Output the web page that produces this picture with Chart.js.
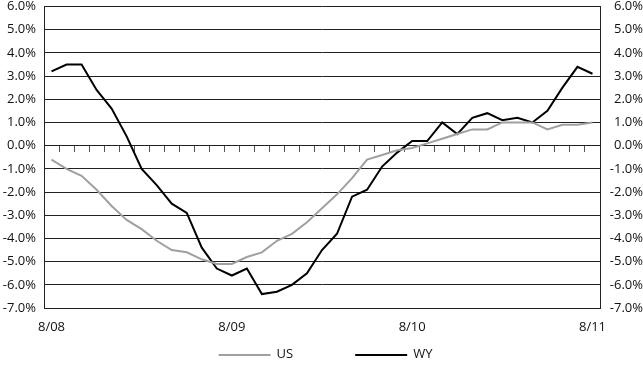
<!DOCTYPE html>
<html><head><meta charset="utf-8">
<script src="https://cdn.jsdelivr.net/npm/chart.js@4/dist/chart.umd.min.js"></script>
<style>html,body{margin:0;padding:0;background:#fff}#wrap{width:643px;height:367px}canvas{display:block}</style>
</head><body><div id="wrap"><canvas id="c" width="643" height="367"></canvas></div>
<script>
const categories = ['8/08','9/08','10/08','11/08','12/08','1/09','2/09','3/09','4/09','5/09','6/09','7/09',
  '8/09','9/09','10/09','11/09','12/09','1/10','2/10','3/10','4/10','5/10','6/10','7/10',
  '8/10','9/10','10/10','11/10','12/10','1/11','2/11','3/11','4/11','5/11','6/11','7/11','8/11'];
const tickLabels = ['8/08','8/09','8/10','8/11'];
const seriesNames = ['US','WY'];
const usValues = [-0.6,-1.0,-1.3,-1.9,-2.6,-3.2,-3.6,-4.1,-4.5,-4.6,-4.9,-5.1,-5.1,-4.8,-4.6,-4.1,-3.8,-3.3,-2.7,-2.1,-1.4,-0.6,-0.4,-0.2,-0.1,0.1,0.3,0.5,0.7,0.7,1.0,1.0,1.0,0.7,0.9,0.9,1.0];
const wyValues = [3.2,3.5,3.5,2.4,1.6,0.4,-1.0,-1.7,-2.5,-2.9,-4.4,-5.3,-5.6,-5.3,-6.4,-6.3,-6.0,-5.5,-4.5,-3.8,-2.2,-1.9,-0.9,-0.3,0.2,0.2,1.0,0.5,1.2,1.4,1.1,1.2,1.0,1.5,2.5,3.4,3.1];
const yMin = -7, yMax = 6, yStep = 1;

const FONT = "'Open Sans', sans-serif";
Chart.defaults.font.family = FONT;
Chart.defaults.font.size = 13;
Chart.defaults.color = '#111';

const pctLabel = v => (Math.round(v * 10) / 10).toFixed(1) + '%';

const customLegend = {
  id: 'customLegend',
  afterDraw(chart) {
    const ctx = chart.ctx;
    const ds = chart.data.datasets;
    const lineW = 52, textGap = 6, itemGap = 62;
    ctx.save();
    ctx.font = '13px ' + FONT;
    const widths = ds.map(d => ctx.measureText(d.label).width);
    let total = 0;
    ds.forEach((d, i) => { total += lineW + textGap + widths[i] + (i < ds.length - 1 ? itemGap : 0); });
    let x = chart.width / 2 - total / 2 + 4;
    const y = 354;
    ds.forEach((d, i) => {
      ctx.strokeStyle = d.borderColor;
      ctx.lineWidth = 2;
      ctx.beginPath();
      ctx.moveTo(x, y + 1);
      ctx.lineTo(x + lineW, y + 1);
      ctx.stroke();
      ctx.fillStyle = '#111';
      ctx.textBaseline = 'middle';
      ctx.textAlign = 'left';
      ctx.fillText(d.label, x + lineW + textGap, y);
      x += lineW + textGap + widths[i] + itemGap;
    });
    ctx.restore();
  }
};

const fixY = w => s => { s.width = w; s.paddingTop = 6.5; s.paddingBottom = 0; };

new Chart(document.getElementById('c'), {
  type: 'line',
  data: {
    labels: categories,
    datasets: [
      { label: seriesNames[0], data: usValues, borderColor: '#a0a0a0', backgroundColor: '#a0a0a0', borderWidth: 2, pointRadius: 0, tension: 0, xAxisID: 'x', yAxisID: 'y' },
      { label: seriesNames[1], data: wyValues, borderColor: '#000000', backgroundColor: '#000000', borderWidth: 2, pointRadius: 0, tension: 0, xAxisID: 'x', yAxisID: 'y' }
    ]
  },
  options: {
    responsive: false,
    animation: false,
    layout: { padding: { top: 0, left: 0, right: 0, bottom: 33 } },
    plugins: { legend: { display: false }, tooltip: { enabled: false } },
    scales: {
      x: {
        type: 'category',
        offset: true,
        position: 'bottom',
        grid: { display: false, drawTicks: false },
        border: { display: true, color: '#222', width: 1 },
        ticks: {
          autoSkip: false, maxRotation: 0, padding: 11,
          font: { size: 13, family: FONT },
          callback: function(v, i) { const l = categories[i]; return tickLabels.includes(l) ? l : ''; }
        },
        afterFit: s => { s.height = 26; s.paddingLeft = 0; s.paddingRight = 0; }
      },
      xz: {
        type: 'category',
        offset: true,
        position: { y: 0 },
        grid: { display: true, drawOnChartArea: false, drawTicks: true, tickLength: 6, color: '#555', lineWidth: 1, offset: true },
        border: { display: false },
        ticks: { display: false },
        afterFit: s => { s.height = 0; s.paddingLeft = 0; s.paddingRight = 0; }
      },
      y: {
        position: 'left',
        min: yMin, max: yMax,
        ticks: { stepSize: yStep, padding: 8, callback: v => pctLabel(v), font: { size: 13, family: FONT, lineHeight: 1 } },
        grid: { color: '#222', lineWidth: 1, drawTicks: false },
        border: { display: true, color: '#222', width: 1 },
        afterFit: fixY(44)
      },
      y2: {
        position: 'right',
        min: yMin, max: yMax,
        ticks: { stepSize: yStep, padding: 6, crossAlign: 'far', callback: v => pctLabel(v), font: { size: 13, family: FONT, lineHeight: 1 } },
        grid: { drawOnChartArea: false, drawTicks: false },
        border: { display: true, color: '#222', width: 1 },
        afterFit: fixY(43)
      }
    }
  },
  plugins: [customLegend]
});
</script>
</body></html>
